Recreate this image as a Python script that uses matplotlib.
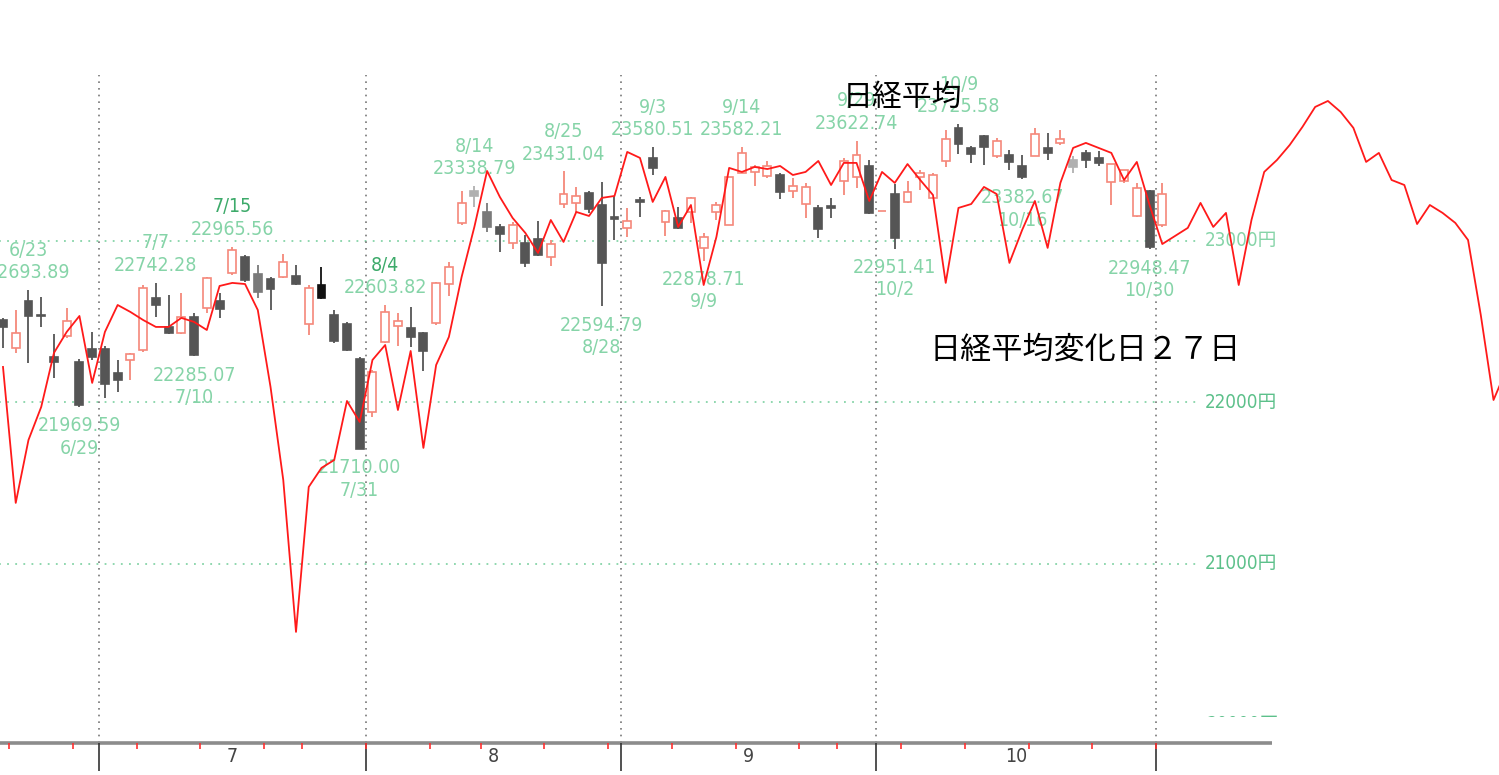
import numpy as np
import pandas as pd
import matplotlib
matplotlib.use('Agg')
import matplotlib.pyplot as plt
from matplotlib.transforms import Bbox, TransformedBbox

#%% data
# TSE trading days (2020), Japanese holidays removed
holidays = ['2020-07-23', '2020-07-24', '2020-08-10', '2020-09-21', '2020-09-22']
days = pd.bdate_range('2020-06-19', '2020-11-02', freq='C', holidays=holidays)

opens = [22510, 22337, 22628, 22540, 22281, 22411, 22250, 22330,
         22330, 22182, 22262, 22324, 22647, 22467, 22430, 22529, 22585, 22628, 22802, 22901,
         22795, 22764, 22777, 22783, 22485, 22727, 22541, 22485, 22268,
         21940, 22374, 22473, 22461, 22430, 22492, 22733, 23112, 23310, 23180,
         23087, 22988, 22988, 23012, 22901, 23229, 23236, 23298, 23223, 23150,
         23081, 23252, 23515, 23118, 23143, 23180, 22957, 23180, 23099, 23422,
         23428, 23403, 23409, 23310, 23229, 23205, 23215, 23372, 23397, 23465,
         23185, 23291, 23242, 23397, 23267, 23496, 23700, 23577, 23651, 23527,
         23533, 23465, 23527, 23577, 23608, 23502, 23546, 23515, 23366, 23372,
         23155, 23310, 23099]
highs = [22523, 22572, 22693.89, 22653, 22423, 22585, 22268, 22436,
         22349, 22262, 22306, 22727, 22742.28, 22665, 22678, 22554, 22777, 22678, 22965.56, 22913,
         22851, 22777, 22919, 22851, 22727, 22839, 22572, 22498, 22281,
         22200, 22603.82, 22554, 22591, 22436, 22746, 22870, 23310, 23338.79, 23236,
         23105, 23118, 23037, 23124, 23006, 23431.04, 23335, 23310, 23366, 23279,
         23205, 23273, 23580.51, 23192, 23211, 23273, 23050, 23242, 23397, 23582.21,
         23471, 23496, 23422, 23391, 23360, 23223, 23267, 23515, 23622.74, 23502,
         23185, 23353, 23372, 23440, 23422, 23688, 23725.58, 23589, 23657, 23639,
         23564, 23533, 23700, 23670, 23688, 23527, 23564, 23558, 23477, 23440,
         23360, 23316, 23360]
lows = [22337, 22306, 22244, 22467, 22151, 22399, 21969.59, 22262,
        22027, 22064, 22138, 22312, 22529, 22423, 22423, 22285.07, 22554, 22523, 22789, 22746,
        22647, 22572, 22771, 22727, 22417, 22640, 22368, 22320, 21710.00,
        21909, 22368, 22349, 22343, 22194, 22479, 22659, 23099, 23211, 23056,
        22932, 22950, 22839, 22907, 22845, 23205, 23174, 23174, 22594.79, 23006,
        23025, 23149, 23409, 23031, 23074, 23112, 22878.71, 23130, 23099, 23422,
        23341, 23391, 23260, 23267, 23143, 23019, 23143, 23285, 23329, 23167,
        23185, 22951.41, 23236, 23316, 23267, 23459, 23539, 23484, 23471, 23515,
        23440, 23382.67, 23527, 23502, 23595, 23422, 23453, 23465, 23223, 23360,
        23149, 22948.47, 23087]
closes = [22467, 22430, 22535, 22534, 22250, 22504, 21983, 22281,
          22113, 22138, 22299, 22709, 22603, 22430, 22529, 22291, 22771, 22578, 22944, 22758,
          22684, 22702, 22870, 22733, 22709, 22647, 22380, 22324, 21710,
          22188, 22560, 22504, 22405, 22318, 22740, 22839, 23236, 23279, 23087,
          23043, 23099, 22864, 22913, 22981, 23291, 23279, 23198, 22864, 23139,
          23124, 23242, 23453, 23186, 23081, 23267, 23025, 23223, 23397, 23546,
          23459, 23465, 23304, 23341, 23335, 23074, 23205, 23496, 23533, 23174,
          23185, 23019, 23304, 23422, 23409, 23632, 23601, 23539, 23583, 23620,
          23490, 23397, 23663, 23546, 23632, 23459, 23502, 23484, 23477, 23440,
          23329, 22963, 23291]

# 日経平均変化日 27日 line (runs past the last candle)
change_line = [22219, 21376, 21766, 21971, 22306, 22436, 22535, 22120,
               22436, 22603, 22560, 22510, 22467, 22467, 22523, 22498, 22448, 22721, 22740, 22733,
               22572, 22095, 21518, 20576, 21475, 21593, 21642, 22008, 21878,
               22262, 22355, 21952, 22318, 21717, 22231, 22405, 22777, 23087, 23434,
               23273, 23143, 23050, 22926, 23130, 22994, 23180, 23155, 23267, 23279,
               23552, 23515, 23242, 23397, 23087, 23223, 22727, 23025, 23453, 23428,
               23459, 23446, 23465, 23409, 23428, 23496, 23347, 23484, 23484, 23248,
               23428, 23360, 23477, 23378, 23285, 22740, 23205, 23229, 23335, 23291,
               22864, 23068, 23248, 22957, 23360, 23577, 23608, 23577, 23546, 23378,
               23490, 23223, 22981, 23031, 23081, 23236, 23087, 23174, 22727, 23130,
               23428, 23502, 23595, 23707, 23831, 23868, 23800, 23701, 23490, 23546,
               23378, 23347, 23105, 23223, 23174, 23112, 23006, 22541, 22014, 22200]

# marked highs / lows (candle index)
high_marks = [2, 12, 18, 30, 37, 44, 51, 58, 67, 75]
low_marks = [6, 15, 28, 47, 55, 70, 80, 90]
strong_marks = [18, 30]

grid_levels = [23000, 22000, 21000]
month_names = ['7', '8', '9', '10']

#%% styles
num_kw = dict(family=['DejaVu Sans', 'Noto Sans CJK JP'], fontstretch='condensed')
jp_font = ['Noto Sans CJK JP', 'DejaVu Sans']

pink = '#f5887a'
dark = '#555555'
green = '#86d4a8'
green_dk = '#3daa6a'
shade = {20: '#7a7a7a', 25: '#111111', 37: '#b0b0b0', 38: '#7a7a7a', 84: '#b0b0b0'}

y_axis = 19888      # level of the time axis line
y_top = 24029       # top of month separators

x = np.arange(len(days))
labels = [f'{d.month}/{d.day}' for d in days]
months = np.array([d.month for d in days])
weeks = np.array([d.isocalendar()[1] for d in days])
month_bounds = [i - 0.5 for i in range(1, len(days)) if months[i] != months[i - 1]]
week_bounds = [i - 0.5 for i in range(1, len(days)) if weeks[i] != weeks[i - 1]]

#%% plot setup
fig = plt.figure(figsize=(14.99, 7.75), dpi=100)
ax = fig.add_axes([0, 0, 1, 1])
ax.set_xlim(-0.235, 117.43)
ax.set_ylim(19689, 24494)
ax.axis('off')

# price grid + labels
for v in grid_levels:
    ax.plot([-0.3, 94.0], [v, v], color=green, lw=1.3, ls=(0, (1, 3.5)), zorder=1)
    ax.text(94.3, v, f'{v}円', ha='left', va='center', fontsize=13.5,
            color=green if v == 23000 else '#5cc08a', **num_kw)
# the 20000 label sits under the plot edge, only its top shows
t = ax.text(94.5, 20000, '20000円', ha='left', va='center', fontsize=13.5,
            color='#5cc08a', clip_on=True, **num_kw)
t.set_clip_box(TransformedBbox(Bbox([[90, 20046], [120, 25000]]), ax.transData))

# month separators
ax.vlines(month_bounds, y_axis, y_top, colors='#777777', lw=1.2,
          linestyles=(0, (1, 3)), zorder=1)

# time axis
ax.plot([-0.3, 99.6], [y_axis, y_axis], color='#8c8c8c', lw=2.6,
        solid_capstyle='butt', zorder=4)
ax.vlines(month_bounds, 19714, y_axis, colors='#333333', lw=1.2, zorder=4)
ax.vlines(week_bounds, 19850, y_axis, colors='#ff3030', lw=1.2, zorder=5)
for m in month_names:
    idx = np.where(months == int(m))[0]
    ax.text((idx[0] + idx[-1]) / 2, 19801, m, ha='center', va='center',
            fontsize=14, color='#444444', **num_kw)

#%% candles
o = np.array(opens, dtype=float)
c = np.array(closes, dtype=float)
up = c >= o
body_col = [pink if u else shade.get(i, dark) for i, u in enumerate(up)]
face_col = ['white' if u else shade.get(i, dark) for i, u in enumerate(up)]

ax.vlines(x, lows, highs, colors=body_col, lw=1.3, zorder=2)
ax.bar(x, np.maximum(np.abs(c - o), 0.5), bottom=np.minimum(o, c), width=0.62,
       facecolor=face_col, edgecolor=body_col, lw=1.2, zorder=3)

#%% high / low labels
for i in high_marks:
    col = green_dk if i in strong_marks else green
    ax.annotate(f'{highs[i]:.2f}', xy=(i, highs[i]), xytext=(0, 12.5),
                textcoords='offset points', ha='center', va='center',
                fontsize=14, color=green, zorder=5, **num_kw)
    ax.annotate(labels[i], xy=(i, highs[i]), xytext=(0, 28.5),
                textcoords='offset points', ha='center', va='center',
                fontsize=14, color=col, zorder=5, **num_kw)
for i in low_marks:
    ax.annotate(f'{lows[i]:.2f}', xy=(i, lows[i]), xytext=(0, -13.5),
                textcoords='offset points', ha='center', va='center',
                fontsize=14, color=green, zorder=5, **num_kw)
    ax.annotate(labels[i], xy=(i, lows[i]), xytext=(0, -29.5),
                textcoords='offset points', ha='center', va='center',
                fontsize=14, color=green, zorder=5, **num_kw)

#%% change line
ax.plot(np.arange(len(change_line)), change_line, color='#ff1a1a', lw=1.3, zorder=6)

#%% titles
fig.text(902 / 1499, 1 - 97 / 775, '日経平均', ha='center', va='center',
         fontsize=21.5, color='black', family=jp_font, zorder=7)
fig.text(930 / 1499, 1 - 350 / 775, '日経平均変化日２７日', ha='left', va='center',
         fontsize=22.4, color='black', family=jp_font, zorder=7)

#%% save
fig.savefig('out.png', dpi=100)
